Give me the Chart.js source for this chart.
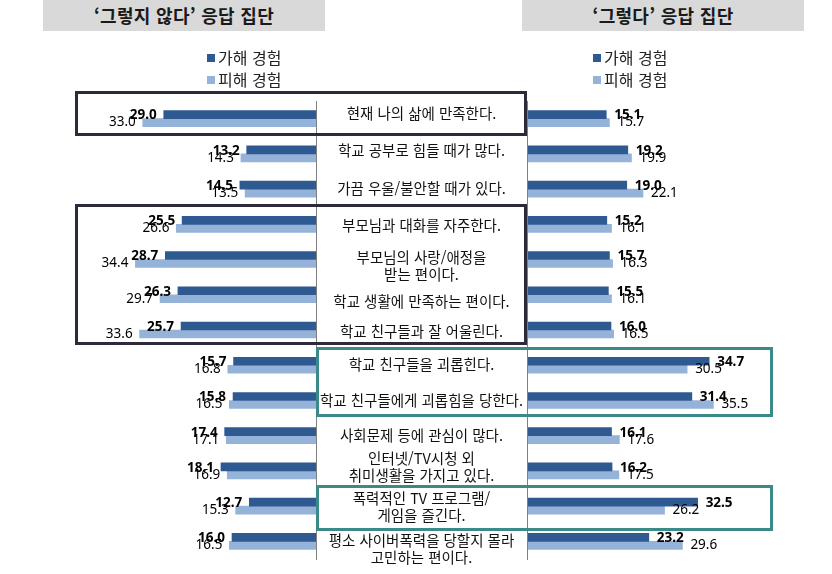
<!DOCTYPE html>
<html lang="ko">
<head>
<meta charset="utf-8">
<script src="https://cdn.jsdelivr.net/npm/chart.js@4"></script>
<style>
  html, body { margin:0; padding:0; background:#fff; }
  #wrap { position:relative; width:832px; height:574px; overflow:hidden; font-family:"Noto Sans CJK KR","Noto Sans",sans-serif; }
  canvas { position:absolute; left:0; top:0; }
  .hdr { position:absolute; top:0; height:31px; background:#d9d9d9; color:#1a1a1a; font-weight:bold; font-size:18px; line-height:31px; text-align:center; letter-spacing:0.3px; }
  .leg { position:absolute; font-size:16px; color:#222; line-height:22px; }
  .leg span.sw { display:inline-block; width:8px; height:8px; margin-right:3px; vertical-align:2px; }
  .cat { position:absolute; font-size:14.5px; color:#111; text-align:center; line-height:17px; white-space:pre; transform:translate(-50%,-50%); }
  .box { position:absolute; box-sizing:border-box; border:3px solid; pointer-events:none; }
</style>
</head>
<body>
<div id="wrap">
  <canvas id="cL" width="832" height="574"></canvas>
  <canvas id="cR" width="832" height="574"></canvas>
  <div class="hdr" style="left:43px;width:282px;">‘그렇지 않다’ 응답 집단</div>
  <div class="hdr" style="left:522px;width:282px;">‘그렇다’ 응답 집단</div>
  <div id="legL" class="leg" style="left:207px;top:46px;"></div>
  <div id="legR" class="leg" style="left:593px;top:46px;"></div>
</div>
<script>
// ---- data ----
const categories = [
  "현재 나의 삶에 만족한다.",
  "학교 공부로 힘들 때가 많다.",
  "가끔 우울/불안할 때가 있다.",
  "부모님과 대화를 자주한다.",
  "부모님의 사랑/애정을\n받는 편이다.",
  "학교 생활에 만족하는 편이다.",
  "학교 친구들과 잘 어울린다.",
  "학교 친구들을 괴롭힌다.",
  "학교 친구들에게 괴롭힘을 당한다.",
  "사회문제 등에 관심이 많다.",
  "인터넷/TV시청 외\n취미생활을 가지고 있다.",
  "폭력적인 TV 프로그램/\n게임을 즐긴다.",
  "평소 사이버폭력을 당할지 몰라\n고민하는 편이다."
];
const seriesNames = ["가해 경험", "피해 경험"];
const noPerp   = [29.0, 13.2, 14.5, 25.5, 28.7, 26.3, 25.7, 15.7, 15.8, 17.4, 18.1, 12.7, 16.0];
const noVict   = [33.0, 14.3, 13.5, 26.6, 34.4, 29.7, 33.6, 16.8, 16.5, 17.1, 16.9, 15.3, 16.5];
const yesPerp  = [15.1, 19.2, 19.0, 15.2, 15.7, 15.5, 16.0, 34.7, 31.4, 16.1, 16.2, 32.5, 23.2];
const yesVict  = [15.7, 19.9, 22.1, 16.1, 16.3, 16.1, 16.5, 30.5, 35.5, 17.6, 17.5, 26.2, 29.6];

// ---- styles ----
const DARK = "#2f5a91", LIGHT = "#95b2d9";
const labelNudge = [-7, -5, -2, 0, 5, 5, 0, -2, -1, -2, -5, 0, 7];
const boxes = [
  { first:0, last:0, side:"left",  color:"#2d2a3a", padTop:10, padBottom:0 },
  { first:3, last:6, side:"left",  color:"#2d2a3a", padTop:3,  padBottom:-3 },
  { first:7, last:8, side:"right", color:"#3a8a8a", padTop:1,  padBottom:-1 },
  { first:11,last:11,side:"right", color:"#3a8a8a", padTop:4,  padBottom:7 }
];

const valueLabels = {
  id: "valueLabels",
  afterDatasetsDraw(chart, args, opts) {
    const ctx = chart.ctx, xs = chart.scales.x, area = chart.chartArea;
    const x0 = xs.getPixelForValue(0);
    ctx.save();
    ctx.strokeStyle = "#808080"; ctx.lineWidth = 1;
    ctx.beginPath(); ctx.moveTo(x0 + 0.5, area.top); ctx.lineTo(x0 + 0.5, area.bottom + 1); ctx.stroke();
    ctx.textBaseline = "middle";
    ctx.fillStyle = "#000";
    [1, 0].forEach(di => {
      const meta = chart.getDatasetMeta(di);
      const ds = chart.data.datasets[di];
      ctx.font = (di === 0 ? "bold " : "") + "13.5px 'Noto Sans', sans-serif";
      meta.data.forEach((el, i) => {
        const txt = ds.data[i].toFixed(1);
        if (opts.side === "left") {
          ctx.textAlign = "right";
          ctx.fillText(txt, el.x - 7, el.y + (di === 0 ? 1 : 0));
        } else {
          ctx.textAlign = "left";
          ctx.fillText(txt, el.x + 8, el.y + (di === 0 ? 1 : 0));
        }
      });
    });
    ctx.restore();
  }
};

function makeChart(id, perp, vict, side) {
  const pad = side === "left"
    ? { left:106, right:516, top:101, bottom:15 }
    : { left:527, right:95, top:101, bottom:15 };
  return new Chart(document.getElementById(id), {
    type: "bar",
    data: {
      labels: categories,
      datasets: [
        { label: seriesNames[0], data: perp, backgroundColor: DARK, barThickness: 8, borderWidth: 0 },
        { label: seriesNames[1], data: vict, backgroundColor: LIGHT, barThickness: 8, borderWidth: 0 }
      ]
    },
    options: {
      indexAxis: "y",
      responsive: false,
      animation: false,
      layout: { padding: pad },
      scales: {
        x: { display:false, min:0, max:40, reverse: side === "left" },
        y: { display:false }
      },
      plugins: {
        legend: { display:false },
        tooltip: { enabled:false },
        valueLabels: { side }
      }
    },
    plugins: [valueLabels]
  });
}

const chL = makeChart("cL", noPerp, noVict, "left");
const chR = makeChart("cR", yesPerp, yesVict, "right");

// legends
["legL","legR"].forEach(id => {
  const el = document.getElementById(id);
  seriesNames.forEach((n, k) => {
    const row = document.createElement("div");
    row.innerHTML = '<span class="sw" style="background:' + (k === 0 ? DARK : LIGHT) + '"></span>' + n;
    el.appendChild(row);
  });
});

// category labels and boxes positioned from the scales
const wrap = document.getElementById("wrap");
const ys = chR.scales.y;
const xL0 = chL.scales.x.getPixelForValue(0);
const xR0 = chR.scales.x.getPixelForValue(0);
const midX = (xL0 + xR0) / 2;
const step = ys.getPixelForValue(1) - ys.getPixelForValue(0);
categories.forEach((c, i) => {
  const d = document.createElement("div");
  d.className = "cat";
  d.textContent = c;
  d.style.left = midX + "px";
  d.style.top = (ys.getPixelForValue(i) + labelNudge[i]) + "px";
  wrap.appendChild(d);
});
boxes.forEach(b => {
  const d = document.createElement("div");
  d.className = "box";
  const top = ys.getPixelForValue(b.first) - step / 2 - b.padTop;
  const bot = ys.getPixelForValue(b.last) + step / 2 + b.padBottom;
  let left, right;
  if (b.side === "left") { left = 75; right = xR0; }
  else { left = xL0; right = 773; }
  d.style.left = left + "px"; d.style.width = (right - left) + "px";
  d.style.top = top + "px"; d.style.height = (bot - top) + "px";
  d.style.borderColor = b.color;
  wrap.appendChild(d);
});
</script>
</body>
</html>
